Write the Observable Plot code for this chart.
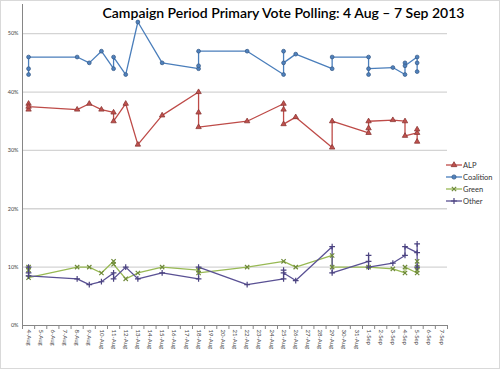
<!DOCTYPE html>
<html>
<head>
<meta charset="utf-8">
<script src="https://cdn.jsdelivr.net/npm/d3@7"></script>
<script src="https://cdn.jsdelivr.net/npm/@observablehq/plot@0.6"></script>
<style>
  html, body { margin: 0; padding: 0; background: #fff; }
  #wrap { position: relative; width: 500px; height: 369px; font-family: Lato, "Open Sans", sans-serif; }
  #title { position: absolute; left: 0; width: 567px; top: 4px; text-align: center; font-size: 14px; font-weight: 600; color: #000; white-space: nowrap; }
  #border { position: absolute; left: 0; top: 0; width: 498px; height: 367px; border: 1px solid #d9d9d9; pointer-events: none; }
  #legend { position: absolute; left: 442px; top: 155px; }
</style>
</head>
<body>
<div id="wrap">
  <div id="chart"></div>
  <div id="title">Campaign Period Primary Vote Polling: 4 Aug – 7 Sep 2013</div>
  <svg id="legend" width="58" height="55"></svg>
  <div id="border"></div>
</div>
<script>
// ---- data (percent) ----
const seriesNames = ["ALP", "Coalition", "Green", "Other"];

const alpDates = ["2013-08-04","2013-08-04","2013-08-04","2013-08-08","2013-08-09","2013-08-10","2013-08-11","2013-08-11","2013-08-12","2013-08-13","2013-08-15","2013-08-18","2013-08-18","2013-08-18","2013-08-22","2013-08-25","2013-08-25","2013-08-25","2013-08-26","2013-08-29","2013-08-29","2013-09-01","2013-09-01","2013-09-01","2013-09-03","2013-09-04","2013-09-04","2013-09-05","2013-09-05","2013-09-05"];
const alpValues = [38, 37, 37.5, 37, 38, 37, 36.5, 35, 38, 31, 36, 40, 36.5, 34, 35, 38, 37, 34.5, 35.7, 30.5, 35, 33, 33.8, 35, 35.2, 35, 32.5, 33, 33.6, 31.5];

const coalitionDates = ["2013-08-04","2013-08-04","2013-08-04","2013-08-08","2013-08-09","2013-08-10","2013-08-11","2013-08-11","2013-08-12","2013-08-13","2013-08-15","2013-08-18","2013-08-18","2013-08-18","2013-08-22","2013-08-25","2013-08-25","2013-08-25","2013-08-26","2013-08-29","2013-08-29","2013-09-01","2013-09-01","2013-09-01","2013-09-03","2013-09-04","2013-09-04","2013-09-04","2013-09-05","2013-09-05","2013-09-05"];
const coalitionValues = [43, 44, 46, 46, 45, 47, 44, 46, 43, 52, 45, 44, 44.5, 47, 47, 43, 47, 45, 46.5, 44, 46, 46, 43, 44, 44.2, 43, 45, 44.5, 46, 45, 43.5];

const greenDates = ["2013-08-04","2013-08-04","2013-08-04","2013-08-08","2013-08-09","2013-08-10","2013-08-11","2013-08-11","2013-08-12","2013-08-13","2013-08-15","2013-08-18","2013-08-18","2013-08-22","2013-08-25","2013-08-26","2013-08-29","2013-08-29","2013-09-01","2013-09-03","2013-09-04","2013-09-04","2013-09-05","2013-09-05","2013-09-05","2013-09-05"];
const greenValues = [10, 9.5, 8.2, 10, 10, 9, 11, 10.5, 8, 9, 10, 9.5, 9, 10, 11, 10, 12, 10, 10, 9.7, 9, 10, 9, 9.5, 10, 11];

const otherDates = ["2013-08-04","2013-08-04","2013-08-04","2013-08-08","2013-08-09","2013-08-10","2013-08-11","2013-08-11","2013-08-12","2013-08-13","2013-08-15","2013-08-18","2013-08-18","2013-08-22","2013-08-25","2013-08-25","2013-08-25","2013-08-26","2013-08-29","2013-08-29","2013-09-01","2013-09-01","2013-09-01","2013-09-03","2013-09-04","2013-09-04","2013-09-05","2013-09-05","2013-09-05"];
const otherValues = [10, 9, 8.5, 8, 7, 7.5, 9, 8, 10, 8, 9, 8, 10, 7, 8, 9.5, 9, 7.7, 13.5, 9, 11, 12, 10, 10.7, 12, 13.5, 12.5, 14, 10];

const yTicks = [0, 10, 20, 30, 40, 50];
const xStart = "2013-08-04", xEnd = "2013-09-07";

// ---- build ----
const parse = d3.utcParse("%Y-%m-%d");
function rows(name, dates, values) {
  return dates.map((d, i) => ({series: name, date: parse(d), value: values[i], order: i}));
}
const data = [
  ...rows("ALP", alpDates, alpValues),
  ...rows("Coalition", coalitionDates, coalitionValues),
  ...rows("Green", greenDates, greenValues),
  ...rows("Other", otherDates, otherValues)
];
const style = {
  ALP: {line: "#be4b48", fill: "#c0504d", stroke: "#8c3836", symbol: "triangle", r: 2},
  Coalition: {line: "#4a7ebb", fill: "#4f81bd", stroke: "#385d8a", symbol: "circle", r: 1.9},
  Green: {line: "#98b954", fill: "#9bbb59", stroke: "#6f8a3a", symbol: "times", r: 2.1},
  Other: {line: "#5a5194", fill: "#6f63a8", stroke: "#4b4380", symbol: "plus", r: 2}
};

const d0 = parse(xStart), d1 = parse(xEnd);
const days = d3.utcDay.range(d0, d3.utcDay.offset(d1, 1));
const halfDay = 12 * 3600 * 1000;
const domainX = [new Date(+d0 - halfDay), new Date(+d1 + halfDay)];
const tickEdges = days.map(d => new Date(+d - halfDay)).concat([domainX[1]]);
const fmt = d3.utcFormat("%-d-%b");

const marks = [
  Plot.ruleY(yTicks.filter(t => t > 0), {stroke: "#d4d4d4", strokeWidth: 1.3}),
  Plot.ruleY([0], {stroke: "#868686", strokeWidth: 1}),
  Plot.ruleX([domainX[0]], {stroke: "#868686", strokeWidth: 1}),
  Plot.axisY({ticks: yTicks, tickSize: 0, tickPadding: 4, tickFormat: d => d + "%", fontSize: 5.5, fill: "#444", label: null}),
  Plot.axisX({ticks: tickEdges, tickSize: 4, tickFormat: () => "", stroke: "#868686", label: null}),
  Plot.axisX({ticks: days, tickSize: 0, tickPadding: 4, tickRotate: 90, tickFormat: fmt, fontSize: 6, fill: "#444", label: null})
];
for (const name of seriesNames) {
  const s = style[name];
  const sub = data.filter(d => d.series === name);
  marks.push(Plot.line(sub, {x: "date", y: "value", stroke: s.line, strokeWidth: 1.3, curve: "linear"}));
}
for (const name of seriesNames) {
  const s = style[name];
  const sub = data.filter(d => d.series === name);
  const open = s.symbol === "times" || s.symbol === "plus";
  marks.push(Plot.dot(sub, {x: "date", y: "value", symbol: () => s.symbol, r: s.r,
    fill: open ? "none" : s.fill,
    stroke: open ? s.stroke : s.stroke, strokeWidth: open ? 1.2 : 0.8}));
}

const chart = Plot.plot({
  width: 500,
  height: 369,
  marginLeft: 22,
  marginRight: 53,
  marginTop: 4,
  marginBottom: 44,
  style: {fontFamily: "Lato, 'Open Sans', sans-serif", background: "#fff"},
  x: {type: "utc", domain: domainX},
  y: {domain: [0, 55]},
  symbol: {type: "identity"},
  marks
});
document.getElementById("chart").appendChild(chart);

// legend
const lg = d3.select("#legend");
seriesNames.forEach((name, i) => {
  const s = style[name];
  const y = 10 + i * 12;
  lg.append("line").attr("x1", 4).attr("x2", 20).attr("y1", y).attr("y2", y).attr("stroke", s.line).attr("stroke-width", 1.3);
  const sym = d3.symbol().type({triangle: d3.symbolTriangle, circle: d3.symbolCircle, times: d3.symbolTimes, plus: d3.symbolPlus}[s.symbol]).size(14);
  const open = s.symbol === "times" || s.symbol === "plus";
  lg.append("path").attr("d", sym()).attr("transform", `translate(12,${y})`)
    .attr("fill", open ? "none" : s.fill).attr("stroke", s.stroke).attr("stroke-width", open ? 1.2 : 0.8);
  lg.append("text").attr("x", 21).attr("y", y).attr("dy", "0.35em").attr("font-size", 7.5)
    .attr("font-family", "Lato, 'Open Sans', sans-serif").attr("fill", "#333").text(name);
});
</script>
</body>
</html>
